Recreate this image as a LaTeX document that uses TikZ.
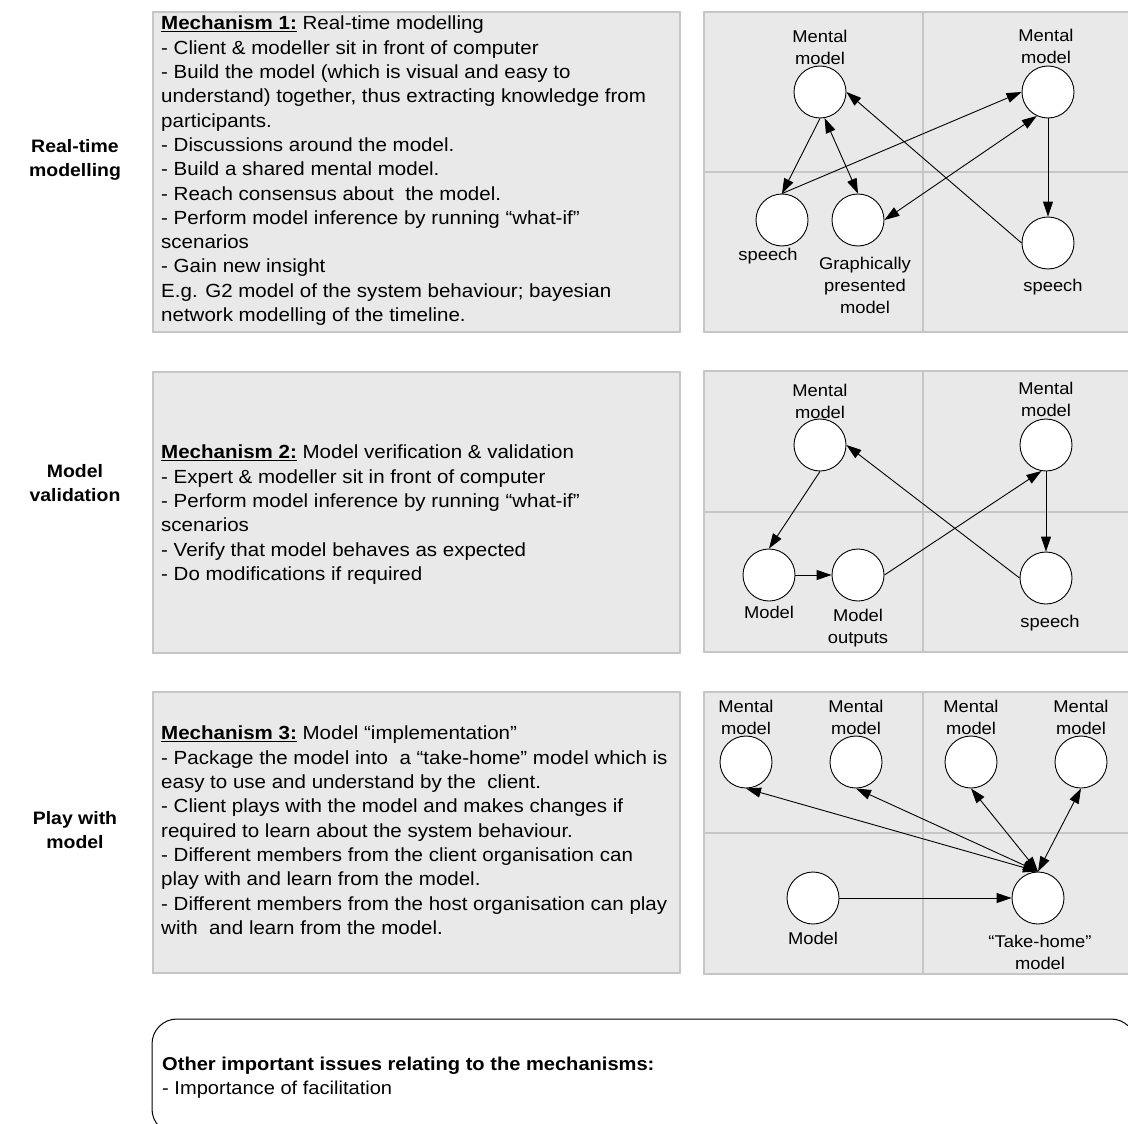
\documentclass[tikz,border=0pt]{standalone}
\usepackage{fontspec}
\setmainfont[FakeStretch=1.08]{Liberation Sans}
\usetikzlibrary{arrows.meta}
\definecolor{boxfill}{HTML}{E9E9E9}
\definecolor{boxline}{HTML}{C6C6C6}
\tikzset{
  mechbox/.style={draw=boxline, fill=boxfill, line width=1.5pt},
  grid/.style={draw=boxline, line width=1.2pt},
  mtext/.style={anchor=north west, inner sep=0pt, align=left,
    font=\fontsize{19}{24.3}\selectfont},
  side/.style={align=center, font=\fontsize{18}{24}\selectfont\bfseries},
  blob/.style={circle, draw, fill=white, minimum size=52pt, inner sep=0pt, line width=0.9pt},
  lbl/.style={align=center, inner sep=0pt, font=\fontsize{17}{22}\selectfont},
  arr/.style={-{Triangle[length=15pt,width=10pt]}, line width=0.9pt},
  darr/.style={{Triangle[length=15pt,width=10pt]}-{Triangle[length=15pt,width=10pt]}, line width=0.9pt}
}
\begin{document}
\begin{tikzpicture}[x=1pt,y=-1pt]
  \useasboundingbox (0,0) rectangle (1128,1124);
  \clip (0,0) rectangle (1128,1124);

  % row labels
  \node[side] (rowa) at (75,160) {Real-time\\modelling};
  \node[side] (rowb) at (75,483) {Model\\validation};
  \node[side] (rowc) at (75,830) {Play with\\model};

  % text boxes
  \draw[mechbox] (153,12) rectangle (680,332);
  \draw[mechbox] (153,372) rectangle (680,653);
  \draw[mechbox] (153,692) rectangle (680,973);
  \node[mtext] (mecha) at (161,16) {\textbf{\underline{Mechanism 1:}} Real-time modelling\\
    - Client \& modeller sit in front of computer\\
    - Build the model (which is visual and easy to\\
    understand) together, thus extracting knowledge from\\
    participants.\\
    - Discussions around the model.\\
    - Build a shared mental model.\\
    - Reach consensus about\ \ the model.\\
    - Perform model inference by running “what-if”\\
    scenarios\\
    - Gain new insight\\
    E.g. G2 model of the system behaviour; bayesian\\
    network modelling of the timeline.};
  \node[mtext] (mechb) at (161,445) {\textbf{\underline{Mechanism 2:}} Model verification \& validation\\
    - Expert \& modeller sit in front of computer\\
    - Perform model inference by running “what-if”\\
    scenarios\\
    - Verify that model behaves as expected\\
    - Do modifications if required};
  \node[mtext] (mechc) at (161,726) {\textbf{\underline{Mechanism 3:}} Model “implementation”\\
    - Package the model into\ \ a “take-home” model which is\\
    easy to use and understand by the\ \ client.\\
    - Client plays with the model and makes changes if\\
    required to learn about the system behaviour.\\
    - Different members from the client organisation can\\
    play with and learn from the model.\\
    - Different members from the host organisation can play\\
    with\ \ and learn from the model.};

  % panels
  \foreach \t/\m/\b in {12/172/332, 371/512/652, 692/833/974} {
    \draw[mechbox] (704,\t) rectangle (1140,\b);
    \draw[grid] (923,\t) -- (923,\b);
    \draw[grid] (704,\m) -- (1140,\m);
  }

  % panel 1
  \node[blob] (amenta) at (820,92) {};
  \node[blob] (amentb) at (1048,92) {};
  \node[blob] (aspeecha) at (782,220) {};
  \node[blob] (agraph) at (858,220) {};
  \node[blob] (aspeechb) at (1048,243) {};
  \node[lbl] (lamenta) at (820,47) {Mental\\model};
  \node[lbl] (lamentb) at (1046,46) {Mental\\model};
  \node[lbl] (laspeecha) at (768,256) {speech};
  \node[lbl] (lagraph) at (865,285) {Graphically\\presented\\model};
  \node[lbl] (laspeechb) at (1053,287) {speech};
  \draw[arr] (amenta.south) -- (aspeecha.north);
  \draw[darr] (amenta.-80) -- (agraph.north);
  \draw[arr] (aspeecha.north) -- (amentb.west);
  \draw[darr] (amentb.-115) -- (agraph.east);
  \draw[arr] (amentb.south) -- (aspeechb.north);
  \draw[arr] (aspeechb.west) -- (amenta.east);

  % panel 2
  \node[blob] (bmenta) at (820,445) {};
  \node[blob] (bmentb) at (1046,445) {};
  \node[blob] (bmodel) at (769,575) {};
  \node[blob] (bout) at (858,575) {};
  \node[blob] (bspeech) at (1046,578) {};
  \node[lbl] (lbmenta) at (820,401) {Mental\\model};
  \node[lbl] (lbmentb) at (1046,399) {Mental\\model};
  \node[lbl] (lbmodel) at (769,612) {Model};
  \node[lbl] (lbout) at (858,628) {Model\\outputs};
  \node[lbl] (lbspeech) at (1050,623) {speech};
  \draw[arr] (bmenta.south) -- (bmodel.north);
  \draw[arr] (bmodel.east) -- (bout.west);
  \draw[arr] (bout.east) -- (bmentb.-100);
  \draw[arr] (bmentb.south) -- (bspeech.north);
  \draw[arr] (bspeech.west) -- (bmenta.east);

  % panel 3
  \foreach \n/\x in {a/746, b/856, c/971, d/1081} {
    \node[blob] (cment\n) at (\x,762) {};
    \node[lbl] (lcment\n) at (\x,717) {Mental\\model};
  }
  \node[blob] (cmodel) at (813,898) {};
  \node[blob] (chome) at (1038,898) {};
  \node[lbl] (lcmodel) at (813,938) {Model};
  \node[lbl] (lchome) at (1040,952) {“Take-home”\\model};
  \foreach \n in {a,b,c,d}
    \draw[darr] (chome.north) -- (cment\n.south);
  \draw[arr] (cmodel.east) -- (chome.west);

  % bottom note
  \draw[line width=1pt, rounded corners=25pt] (152,1019) rectangle (1136,1134);
  \node[mtext, font=\fontsize{18.6}{24}\selectfont] (note) at (162,1057)
    {\textbf{Other important issues relating to the mechanisms:}\\- Importance of facilitation};
\end{tikzpicture}
\end{document}
